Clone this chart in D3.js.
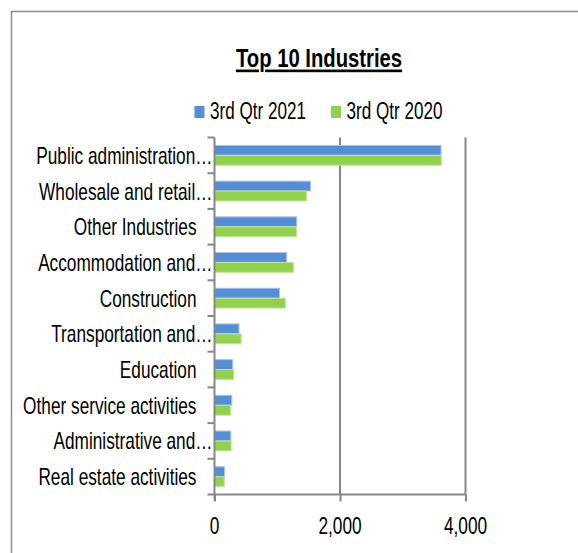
<!DOCTYPE html>
<html>
<head>
<meta charset="utf-8">
<script src="https://cdn.jsdelivr.net/npm/d3@7"></script>
<style>
  body { margin: 0; background: #fff; }
  svg text { font-family: "Liberation Sans", Arial, sans-serif; fill: #000; }
</style>
</head>
<body>
<div id="chart"></div>
<script>
const categories = [
    "Public administration…",
    "Wholesale and retail…",
    "Other Industries",
    "Accommodation and…",
    "Construction",
    "Transportation and…",
    "Education",
    "Other service activities",
    "Administrative and…",
    "Real estate activities"
];
const seriesNames = ["3rd Qtr 2021", "3rd Qtr 2020"];
const q3_2021 = [3610, 1530, 1310, 1150, 1035, 390, 290, 275, 260, 160];
const q3_2020 = [3615, 1465, 1310, 1260, 1130, 425, 305, 255, 265, 155];
const xTicks = [0, 2000, 4000];

const colors = ["#558ed5", "#92d050"];
const edge = ["#a7c4ea", "#c3e69a"];

// narrow text: Liberation Sans squeezed horizontally like Arial Narrow
function narrowText(sel, x, y, size, sx) {
    return sel.append("text")
        .attr("transform", `translate(${x},${y}) scale(${sx},1)`)
        .attr("font-size", size);
}

function drawChart() {
    const width = 578, height = 553;
    const left = 214.5, right = 465.5, top = 137.5, bottom = 494.5;

    const svg = d3.select("#chart")
        .append("svg")
        .attr("width", width)
        .attr("height", height);

    // outer chart border
    svg.append("rect")
        .attr("x", 11.5).attr("y", 11.5)
        .attr("width", 600).attr("height", 600)
        .attr("fill", "white")
        .attr("stroke", "#8c8c8c")
        .attr("stroke-width", 1.5);

    const x = d3.scaleLinear().domain([0, 4000]).range([left, right]);
    const y = d3.scaleBand().domain(categories).range([top, bottom]);
    const inner = d3.scaleBand().domain([0, 1]).range([0, y.bandwidth()]).paddingInner(0).paddingOuter(0.8);

    // gridlines
    svg.append("g")
        .selectAll("line")
        .data(xTicks.slice(1))
        .join("line")
        .attr("x1", d => x(d)).attr("x2", d => x(d))
        .attr("y1", top).attr("y2", bottom)
        .attr("stroke", "#878787")
        .attr("stroke-width", 2);

    // bars
    const series = [q3_2021, q3_2020];
    series.forEach((vals, s) => {
        svg.append("g")
            .selectAll("rect")
            .data(vals)
            .join("rect")
            .attr("x", x(0))
            .attr("y", (d, i) => y(categories[i]) + inner(s))
            .attr("width", d => x(d) - x(0))
            .attr("height", inner.bandwidth())
            .attr("fill", colors[s])
            .attr("stroke", edge[s])
            .attr("stroke-width", 1);
    });

    // y axis
    const yAxis = svg.append("g").attr("transform", `translate(${left},0)`);
    yAxis.append("line")
        .attr("x1", 0).attr("x2", 0).attr("y1", top).attr("y2", bottom + 6)
        .attr("stroke", "#878787").attr("stroke-width", 2);
    const bounds = categories.map(c => y(c)).concat([bottom]);
    yAxis.selectAll("line.tick")
        .data(bounds)
        .join("line")
        .attr("class", "tick")
        .attr("x1", -7).attr("x2", 0)
        .attr("y1", d => d).attr("y2", d => d)
        .attr("stroke", "#878787").attr("stroke-width", 2);
    categories.forEach(c => {
        narrowText(yAxis, c.endsWith("…") ? -2 : -18, y(c) + y.bandwidth() / 2 + 8.5, 23, 0.75)
            .attr("text-anchor", "end")
            .text(c);
    });

    // x axis
    const xAxis = d3.axisBottom(x)
        .tickValues(xTicks)
        .tickFormat("")
        .tickSize(7);
    const gx = svg.append("g")
        .attr("transform", `translate(0,${bottom})`)
        .call(xAxis);
    gx.selectAll("path, line").attr("stroke", "#878787").attr("stroke-width", 2);
    gx.select(".domain").attr("d", `M${left},0H${right}`);
    const fmt = d3.format(",");
    xTicks.forEach(t => {
        narrowText(gx, x(t), 39, 24, 0.72)
            .attr("text-anchor", "middle")
            .text(fmt(t));
    });

    // title
    narrowText(svg, 319, 67.3, 26.5, 0.765)
        .attr("text-anchor", "middle")
        .attr("font-weight", "bold")
        .attr("text-decoration", "underline")
        .text("Top 10 Industries");

    // legend
    const legendX = [194.5, 331];
    seriesNames.forEach((name, i) => {
        const g = svg.append("g").attr("transform", `translate(${legendX[i]},106)`);
        g.append("rect").attr("width", 10).attr("height", 12).attr("fill", colors[i]);
        narrowText(g, 15.5, 13.3, 24.6, 0.695).text(name);
    });
}

window.onload = drawChart;
</script>
</body>
</html>
